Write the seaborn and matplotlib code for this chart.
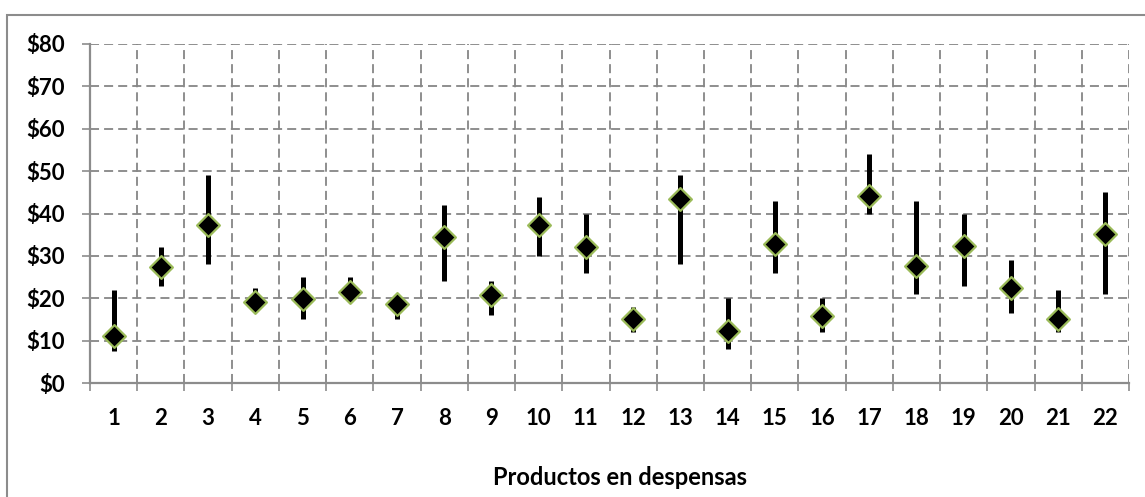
import matplotlib
matplotlib.use("Agg")
import matplotlib.pyplot as plt
import seaborn as sns
import pandas as pd
import numpy as np
from matplotlib.patches import Rectangle
from matplotlib.ticker import FixedLocator, FuncFormatter

products = [str(i) for i in range(1, 23)]
price_min = [7.5, 23, 28, 18.5, 15, 20.5, 15, 24, 16, 30, 26, 12, 28, 8, 26, 12, 40, 21, 23, 16.5, 12, 21]
price_max = [22, 32, 49, 22.4, 25, 25, 19, 42, 24, 44, 40, 18, 49, 20, 43, 20, 54, 43, 40, 29, 22, 45]
price_mean = [11.2, 27.3, 37.3, 19.1, 19.9, 21.5, 18.7, 34.4, 20.7, 37.2, 32.1, 15.2, 43.5, 12.2, 32.8, 15.9, 44.2, 27.5, 32.4, 22.4, 15.1, 35.1]
y_ticks = [0, 10, 20, 30, 40, 50, 60, 70, 80]
x_title = "Productos en despensas"

df = pd.DataFrame({"producto": products, "min": price_min, "max": price_max, "media": price_mean})
df["pos"] = np.arange(len(df))

sns.set_theme(style="white")
plt.rcParams["font.family"] = ["Lato", "DejaVu Sans"]

fig = plt.figure(figsize=(11.45, 4.97), dpi=100)
ax = fig.add_axes([90 / 1145, 1 - 383 / 497, (1129 - 90) / 1145, (383 - 44) / 497])

# outer chart frame
fig.patches.append(Rectangle((7 / 1145, -0.1), 1.2, 1 - 15 / 497 + 0.1, transform=fig.transFigure,
                             fill=False, edgecolor="#8c8c8c", linewidth=1.5, zorder=0))

ax.vlines(df["pos"], df["min"], df["max"], color="black", linewidth=3.6, zorder=3)
sns.scatterplot(data=df, x="pos", y="media", marker="D", s=135, color="black",
                edgecolor="#9BBB59", linewidth=1.6, ax=ax, zorder=4, legend=False)

ax.set_xlim(-0.5, len(df) - 0.5)
ax.set_ylim(0, 80)

ax.xaxis.set_major_locator(FixedLocator(df["pos"].tolist()))
ax.set_xticklabels(products)
ax.xaxis.set_minor_locator(FixedLocator(list(np.arange(-0.5, len(df), 1.0))))
ax.set_yticks(y_ticks)
ax.yaxis.set_major_formatter(FuncFormatter(lambda v, p: f"${int(v)}"))

ax.tick_params(axis="x", which="major", length=0, pad=18, labelsize=16, labelcolor="black")
ax.tick_params(axis="x", which="minor", length=6, width=1.2, color="#8c8c8c", direction="out", bottom=True)
ax.tick_params(axis="y", which="major", length=6, width=1.2, color="#8c8c8c", direction="out",
               left=True, pad=12, labelsize=16, labelcolor="black")
for lab in ax.get_xticklabels() + ax.get_yticklabels():
    lab.set_fontweight("bold")

ax.grid(False)
ax.yaxis.grid(True, which="major", linestyle=(0, (5, 2.8)), color="#868686", linewidth=1.3)
ax.xaxis.grid(True, which="minor", linestyle=(0, (5, 2.8)), color="#868686", linewidth=1.3)
ax.set_axisbelow(True)

for side in ["top", "right"]:
    ax.spines[side].set_visible(False)
for side in ["left", "bottom"]:
    ax.spines[side].set_color("#8c8c8c")
    ax.spines[side].set_linewidth(1.6)

ax.set_xlabel(x_title, fontsize=17, fontweight="bold", color="black")
ax.xaxis.label.set_verticalalignment("baseline")
ax.xaxis.set_label_coords((620 - 90) / 1039, (383 - 485) / 339)
ax.set_ylabel("")

fig.savefig("out.png", dpi=100)
